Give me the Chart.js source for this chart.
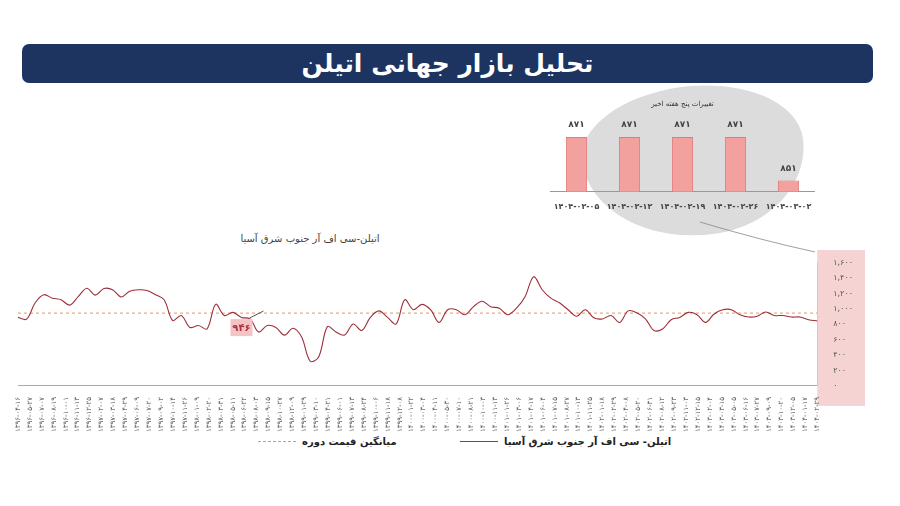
<!DOCTYPE html>
<html><head><meta charset="utf-8">
<script src="https://cdn.jsdelivr.net/npm/chart.js@4"></script>
<style>
body{margin:0;width:900px;height:506px;background:#fff;font-family:"DejaVu Sans",sans-serif;position:relative;overflow:hidden}
#banner{position:absolute;left:22px;top:44px;width:851px;height:39px;background:#1d3461;border-radius:7px;color:#fff;font-weight:bold;font-size:25px;text-align:center;line-height:39px}
#blob{position:absolute;left:583px;top:86px;width:222px;height:150px;background:#dcdcdc;border-radius:48% 52% 45% 55% / 40% 45% 55% 60%;transform:rotate(-8deg)}
#inset{position:absolute;left:550px;top:100px;width:265px;height:115px}
#main{position:absolute;left:15px;top:250px;width:850px;height:185px}
#ctitle{position:absolute;left:230px;top:233px;width:160px;text-align:center;font-size:10px;color:#444}
#arrow{position:absolute;left:0;top:0}
.leg{position:absolute;top:436px;font-size:10px;font-weight:bold;color:#222;direction:rtl;display:flex;align-items:center;gap:6px}
.leg span.sw{display:inline-block;width:38px;height:0}
</style></head><body>
<div id="banner">تحلیل بازار جهانی اتیلن</div>
<div id="blob"></div>
<svg id="arrow" width="900" height="506"><path d="M700 222 Q760 240 815 252" stroke="#888" fill="none" stroke-width="0.8"/></svg>
<div id="inset"><canvas id="c2"></canvas></div>
<div id="ctitle">اتیلن-سی اف آر جنوب شرق آسیا</div>
<div id="main"><canvas id="c1"></canvas></div>
<div class="leg" style="left:460px"><span>اتیلن- سی اف آر جنوب شرق آسیا</span><span class="sw" style="border-top:1.5px solid #a8323a"></span></div>
<div class="leg" style="left:258px"><span>میانگین قیمت دوره</span><span class="sw" style="border-top:1px dashed #e8955a"></span></div>
<script>
const prices = [890,867,1080,1185,1140,1120,1050,1160,1270,1180,1265,1250,1155,1230,1250,1240,1185,1120,
  850,915,760,785,740,1060,915,955,890,870,700,785,760,660,750,635,320,380,770,700,660,805,720,890,975,890,805,
  1120,990,1060,990,825,990,990,925,1030,1100,1030,1010,925,1010,1160,1420,1250,1140,1080,990,905,990,885,870,
  915,825,975,950,870,720,740,860,890,955,925,825,935,990,990,925,895,905,960,915,915,895,895,860,845];
const avgPrice = 946;
const dates = ['1396-04-16','1396-05-27','1396-07-07','1396-08-19','1396-10-01','1396-11-13','1396-12-25','1397-02-07',
  '1397-03-18','1397-04-29','1397-06-09','1397-07-20','1397-09-02','1397-10-14','1397-11-26','1398-01-09','1398-02-20',
  '1398-03-31','1398-05-11','1398-06-22','1398-08-03','1398-09-15','1398-10-27','1398-12-09','1399-01-29','1399-03-10',
  '1399-04-21','1399-06-01','1399-07-13','1399-08-24','1399-10-06','1399-11-18','1399-12-08','1400-01-22','1400-03-04',
  '1400-04-11','1400-05-30','1400-07-10','1400-08-21','1400-10-03','1400-11-13','1401-01-26','1401-03-06','1401-04-17',
  '1401-06-04','1401-07-15','1401-08-27','1401-10-13','1401-11-25','1402-01-18','1402-02-29','1402-04-08','1402-05-20',
  '1402-06-31','1402-08-12','1402-09-23','1402-11-03','1402-12-15','1403-02-04','1403-03-15','1403-05-05','1403-06-16',
  '1403-07-27','1403-09-09','1403-10-20','1403-12-05','1404-01-17','1404-02-29'];
const yTicks = [0,200,400,600,800,1000,1200,1400,1600];
const weekDates = ['1404-02-05','1404-02-12','1404-02-19','1404-02-26','1404-03-02'];
const weekPrices = [871,871,871,871,851];

const fa = s => String(s).replace(/\d/g, d => '۰۱۲۳۴۵۶۷۸۹'[d]);
const faNum = n => fa(n.toLocaleString('en-US'));
const lineColor = '#9e2f38';
Chart.defaults.font.family = '"DejaVu Sans", sans-serif';
Chart.defaults.animation = false;

const pinkAxis = {
  id: 'pinkAxis',
  beforeDraw(chart) {
    const {ctx, chartArea, scales} = chart;
    ctx.save();
    ctx.fillStyle = '#f6d3d3';
    ctx.fillRect(chartArea.right, 0, scales.y.right - chartArea.right + 4, chartArea.bottom + 20);
    ctx.restore();
  },
  afterDraw(chart) {
    const {ctx, scales} = chart;
    const x = scales.x.getPixelForValue(26), y = scales.y.getPixelForValue(avgPrice);
    ctx.save();
    ctx.fillStyle = '#f3c4c6';
    ctx.fillRect(x - 11, y + 6, 22, 17);
    ctx.fillStyle = '#b0303a';
    ctx.font = 'bold 10px "DejaVu Sans"';
    ctx.textAlign = 'center';
    ctx.textBaseline = 'middle';
    ctx.fillText(fa(avgPrice), x, y + 15);
    ctx.strokeStyle = '#555';
    ctx.beginPath(); ctx.moveTo(x + 8, y + 5); ctx.lineTo(x + 22, y - 2); ctx.stroke();
    ctx.restore();
  }
};

new Chart(document.getElementById('c1'), {
  type: 'line',
  data: {
    labels: prices.map((p, i) => i),
    datasets: [
      {label: 'اتیلن- سی اف آر جنوب شرق آسیا', data: prices, borderColor: lineColor, borderWidth: 1.1, pointRadius: 0, tension: 0.35},
      {label: 'میانگین قیمت دوره', data: prices.map(() => avgPrice), borderColor: '#e8955a', borderWidth: 1, borderDash: [3, 3], pointRadius: 0}
    ]
  },
  options: {
    responsive: true, maintainAspectRatio: false,
    layout: {padding: {left: 0, right: 4, top: 12}},
    plugins: {legend: {display: false}, tooltip: {enabled: false}},
    scales: {
      x: {display: false},
      x2: {type: 'category', labels: dates, offset: false, grid: {display: false}, border: {color: '#aaa'},
        ticks: {autoSkip: false, maxRotation: 90, minRotation: 90, font: {size: 7}, color: '#555', callback: (v, i) => fa(dates[i])}},
      y: {position: 'right', min: 0, max: 1600, grid: {display: false}, border: {display: true, color: '#ccc'},
        afterBuildTicks: s => { s.ticks = yTicks.map(v => ({value: v})); },
        ticks: {font: {size: 8}, color: '#555', padding: 8, callback: v => faNum(v)}}
    }
  },
  plugins: [pinkAxis]
});

new Chart(document.getElementById('c2'), {
  type: 'bar',
  data: {labels: weekDates, datasets: [{data: weekPrices, backgroundColor: '#f2a19e', borderColor: '#e07b78', borderWidth: 1, barPercentage: 0.4, categoryPercentage: 1}]},
  options: {
    responsive: true, maintainAspectRatio: false,
    plugins: {
      legend: {display: false}, tooltip: {enabled: false},
      title: {display: true, text: 'تغییرات پنج هفته اخیر', color: '#333', font: {size: 7, weight: 'normal'}, padding: {bottom: 22}}
    },
    scales: {
      x: {grid: {display: false}, border: {color: '#999'}, ticks: {font: {size: 8, weight: 'bold'}, color: '#444', callback: (v, i) => fa(weekDates[i])}},
      y: {display: false, min: 846, max: 874}
    }
  },
  plugins: [{
    id: 'vals',
    afterDatasetsDraw(chart) {
      const {ctx} = chart;
      ctx.save();
      ctx.font = 'bold 9px "DejaVu Sans"'; ctx.fillStyle = '#444'; ctx.textAlign = 'center';
      chart.getDatasetMeta(0).data.forEach((b, i) => ctx.fillText(fa(weekPrices[i]), b.x, b.y - 10));
      ctx.restore();
    }
  }]
});
</script>
</body></html>
